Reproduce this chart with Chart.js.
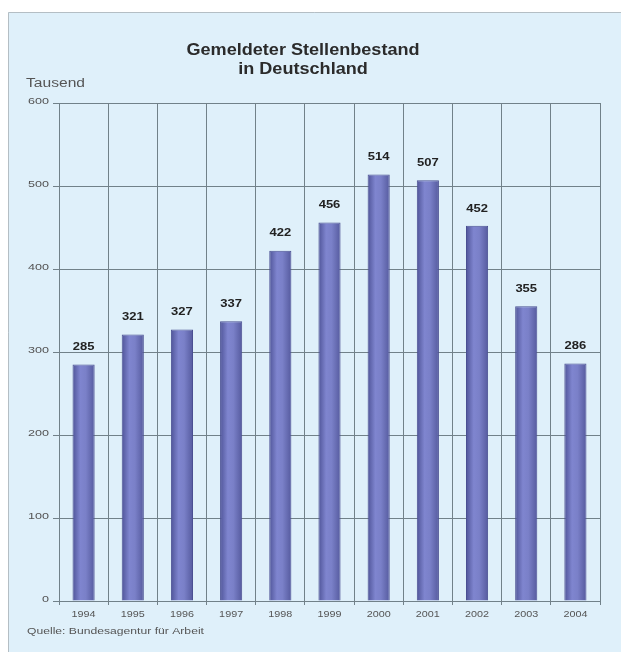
<!DOCTYPE html>
<html>
<head>
<meta charset="utf-8">
<script src="https://cdn.jsdelivr.net/npm/chart.js@4/dist/chart.umd.min.js"></script>
<style>
  html, body { margin: 0; padding: 0; background: #fff; }
  canvas { display: block; }
</style>
</head>
<body>
<canvas id="stellen" width="621" height="652"></canvas>
<script>
var jahre = ['1994', '1995', '1996', '1997', '1998', '1999', '2000', '2001', '2002', '2003', '2004'];
var bestand = [285, 321, 327, 337, 422, 456, 514, 507, 452, 355, 286];
var titel = ['Gemeldeter Stellenbestand', 'in Deutschland'];
var einheit = 'Tausend';
var quelle = 'Quelle: Bundesagentur für Arbeit';

var schrift = '"Liberation Sans", Arial, sans-serif';
var gitter = '#718189';

// text is set a bit wider than the plain font
function breitText(c, text, x, y, align, dehnung) {
  c.save();
  c.translate(x, y);
  c.scale(dehnung, 1);
  c.textAlign = align;
  c.fillText(text, 0, 0);
  c.restore();
}

// light blue panel with thin border, white margin top/left
var hintergrund = {
  id: 'hintergrund',
  beforeDraw: function (chart) {
    var c = chart.ctx;
    c.save();
    c.fillStyle = '#dff0fa';
    c.fillRect(8, 12, chart.width - 8, chart.height - 12);
    c.strokeStyle = '#b4bec4';
    c.lineWidth = 1;
    c.beginPath();
    c.moveTo(8.5, chart.height);
    c.lineTo(8.5, 12.5);
    c.lineTo(chart.width, 12.5);
    c.stroke();
    c.restore();
  }
};

// title, unit, source, axis labels and the value over each bar
var beschriftung = {
  id: 'beschriftung',
  afterDraw: function (chart) {
    var c = chart.ctx;
    c.save();
    c.textBaseline = 'middle';

    c.fillStyle = '#2b2b2b';
    c.font = 'bold 16px ' + schrift;
    breitText(c, titel[0], 303, 51, 'center', 1.13);
    breitText(c, titel[1], 303, 70, 'center', 1.13);

    c.fillStyle = '#555';
    c.font = '12px ' + schrift;
    breitText(c, einheit, 26, 84, 'left', 1.3);
    c.font = '9px ' + schrift;
    breitText(c, quelle, 27, 632, 'left', 1.35);

    var y = chart.scales.y;
    var x = chart.scales.x;
    c.fillStyle = '#555';
    c.font = '9px ' + schrift;
    y.ticks.forEach(function (t) {
      breitText(c, String(t.value), 49, y.getPixelForValue(t.value) - 1, 'right', 1.4);
    });
    jahre.forEach(function (j, i) {
      breitText(c, j, x.getPixelForValue(i), 615, 'center', 1.2);
    });

    c.fillStyle = '#222';
    c.font = 'bold 10px ' + schrift;
    chart.getDatasetMeta(0).data.forEach(function (bar, i) {
      breitText(c, String(bestand[i]), bar.x, bar.y - 17, 'center', 1.3);
    });
    c.restore();
  }
};

function saeulenFarbe(context) {
  var chart = context.chart;
  var x = chart.scales.x;
  if (!x || x.width === undefined) return '#7478c2';
  var mitte = x.getPixelForValue(context.dataIndex);
  var halb = x.width / jahre.length * 0.45 / 2;
  var g = chart.ctx.createLinearGradient(mitte - halb, 0, mitte + halb, 0);
  g.addColorStop(0, '#4f5498');
  g.addColorStop(0.35, '#7f85cf');
  g.addColorStop(0.6, '#7a80c8');
  g.addColorStop(1, '#555a9e');
  return g;
}

new Chart(document.getElementById('stellen'), {
  type: 'bar',
  data: {
    labels: jahre,
    datasets: [{
      data: bestand,
      backgroundColor: saeulenFarbe,
      borderColor: '#4a4f92',
      borderWidth: 1,
      barPercentage: 0.45,
      categoryPercentage: 1
    }]
  },
  plugins: [hintergrund, beschriftung],
  options: {
    responsive: false,
    animation: false,
    layout: { padding: { top: 103, right: 21, left: 0, bottom: 0 } },
    plugins: {
      legend: { display: false },
      tooltip: { enabled: false }
    },
    scales: {
      x: {
        offset: true,
        grid: { offset: true, color: gitter, lineWidth: 1, tickLength: 4 },
        border: { color: gitter },
        // labels are drawn by the plugin above, stretched
        ticks: { color: 'transparent', font: { family: schrift, size: 9 }, padding: 4 },
        afterFit: function (scale) { scale.height = 51; }
      },
      y: {
        min: 0,
        max: 600,
        ticks: { stepSize: 100, color: 'transparent', font: { family: schrift, size: 9 }, padding: 3 },
        grid: { color: gitter, lineWidth: 1, tickLength: 6 },
        border: { color: gitter },
        afterFit: function (scale) { scale.width = 59; }
      }
    }
  }
});
</script>
</body>
</html>
